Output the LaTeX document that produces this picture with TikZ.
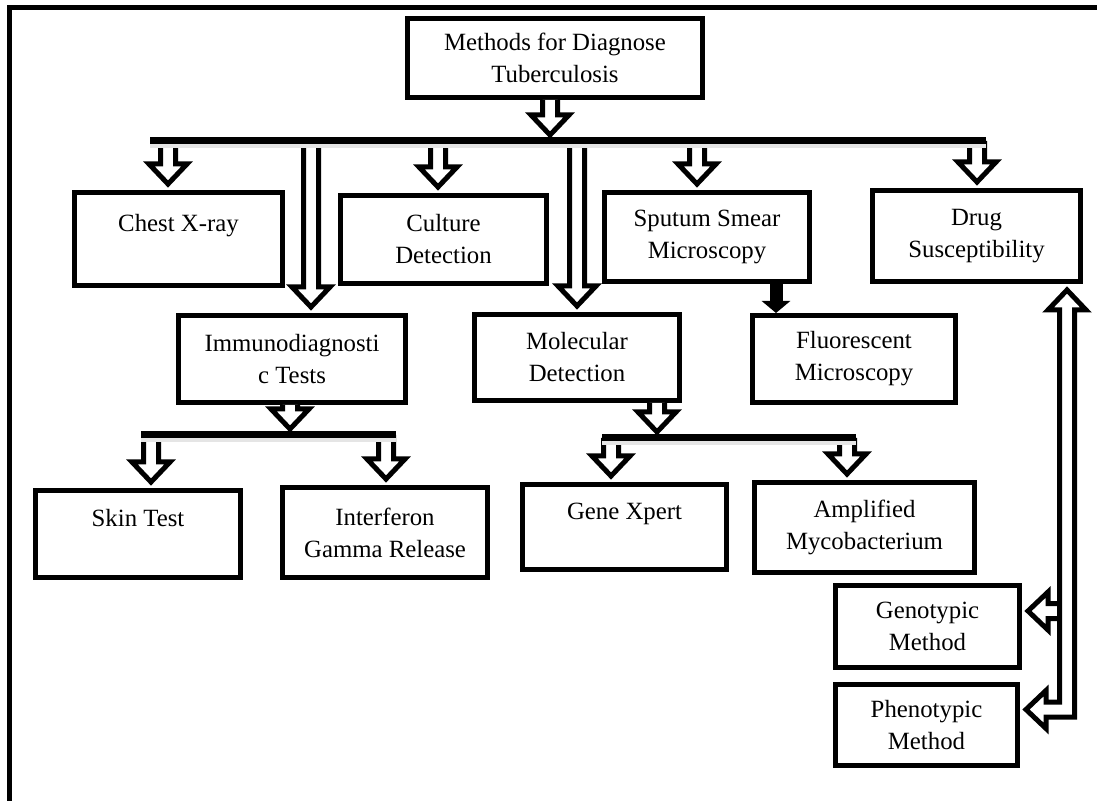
\documentclass[tikz,border=0pt]{standalone}
\usepackage{fontspec}
\setmainfont{Liberation Serif}
\usetikzlibrary{arrows.meta,calc}

% open block arrow pointing down: from a point (#1) to a node anchor (#2)
\newcommand{\hollowdown}[2]{%
  \draw[hollow] let \p1=(#1), \p2=(#2) in
    (\x1-3.75pt,\y1) -- (\x1-3.75pt,\y2+13pt) -- (\x1-9.5pt,\y2+13pt)
    -- (\x1,\y2+3pt) -- (\x1+9.5pt,\y2+13pt) -- (\x1+3.75pt,\y2+13pt)
    -- (\x1+3.75pt,\y1);}

\begin{document}
\begin{tikzpicture}[
  x=0.5pt, y=-0.5pt,
  box/.style={draw, line width=2.5pt, align=center, inner sep=0pt,
    font=\fontsize{12.4}{16}\selectfont},
  hollow/.style={draw, fill=white, line width=2.5pt, line join=miter, miter limit=10},
  bar/.style={line width=3.5pt},
  barshade/.style={line width=4pt, draw=black!10},
  fillarr/.style={line width=6.5pt, -{Triangle[length=6pt, width=14pt]}}
]
\useasboundingbox (0,0) rectangle (1097,801);
\draw[line width=2.5pt, line join=miter] (9.5,801) -- (9.5,8) -- (1097,8);

\node[box, minimum width=147.5pt, minimum height=39.5pt] (root) at (555,58) {Methods for Diagnose\\Tuberculosis};
\node[box, minimum width=104pt, minimum height=46.5pt] (chest) at (178.5,239) {Chest X-ray\\\mbox{}};
\node[box, minimum width=103pt, minimum height=44pt] (culture) at (443.5,239.5) {Culture\\Detection};
\node[box, minimum width=102.5pt, minimum height=44.5pt] (sputum) at (707,237) {Sputum Smear\\Microscopy};
\node[box, minimum width=104pt, minimum height=45.5pt] (drug) at (976.5,236) {Drug\\Susceptibility};
\node[box, minimum width=113.5pt, minimum height=43.5pt] (immuno) at (292,359) {Immunodiagnosti\\c Tests};
\node[box, minimum width=102.5pt, minimum height=43pt] (molec) at (577,357.5) {Molecular\\Detection};
\node[box, minimum width=101.5pt, minimum height=43.5pt] (fluor) at (854,359) {Fluorescent\\Microscopy};
\node[box, minimum width=102.5pt, minimum height=43.5pt] (skin) at (138,534) {Skin Test\\\mbox{}};
\node[box, minimum width=102.5pt, minimum height=45pt] (interf) at (385,532.5) {Interferon\\Gamma Release};
\node[box, minimum width=102pt, minimum height=42.5pt] (gene) at (624.5,527) {Gene Xpert\\\mbox{}};
\node[box, minimum width=110pt, minimum height=45pt] (ampl) at (864.5,527.5) {Amplified\\Mycobacterium};
\node[box, minimum width=92pt, minimum height=41pt] (geno) at (927.5,626.5) {Genotypic\\Method};
\node[box, minimum width=91pt, minimum height=40.5pt] (pheno) at (926.5,725) {Phenotypic\\Method};

% points on the bars
\coordinate (hub) at (550,141);
\coordinate (t1) at (168,141);
\coordinate (t2) at (311,141);
\coordinate (t3) at (438,141);
\coordinate (t4) at (577,141);
\coordinate (t5) at (697,141);
\coordinate (t6) at (977,141);
\coordinate (ihub) at (290,435);
\coordinate (i1) at (151,435);
\coordinate (i2) at (386,435);
\coordinate (mhub) at (657,438);
\coordinate (m1) at (611,438);
\coordinate (m2) at (847,438);
\coordinate (fs) at ([xshift=34.5pt]sputum.south);
\coordinate (rv) at (1067,450);

\hollowdown{[xshift=-2.5pt]root.south}{hub}
\hollowdown{t1}{chest.north}
\hollowdown{t2}{immuno.north}
\hollowdown{t3}{culture.north}
\hollowdown{t4}{molec.north}
\hollowdown{t5}{sputum.north}
\hollowdown{t6}{drug.north}
\hollowdown{[xshift=-1pt]immuno.south}{ihub}
\hollowdown{i1}{skin.north}
\hollowdown{i2}{interf.north}
\hollowdown{[xshift=40pt]molec.south}{mhub}
\hollowdown{m1}{gene.north}
\hollowdown{m2}{ampl.north}

\draw[barshade] (150,144) -- (986,144);
\draw[bar] (150,141) -- (986,141);
\draw[barshade] (141,438) -- (396,438);
\draw[bar] (141,435) -- (396,435);
\draw[barshade] (602,441) -- (856,441);
\draw[bar] (602,438) -- (856,438);

\draw[fillarr] (fs) -- (fs |- fluor.north);

% drug susceptibility: genotypic / phenotypic
\draw[hollow] let \p1=(rv), \p2=([yshift=7.75pt]geno.east) in
  (\x1-3.75pt,\y2+3.75pt) -- (\x2+13pt,\y2+3.75pt) -- (\x2+13pt,\y2+9.5pt)
  -- (\x2+3pt,\y2) -- (\x2+13pt,\y2-9.5pt) -- (\x2+13pt,\y2-3.75pt)
  -- (\x1-3.75pt,\y2-3.75pt);
\draw[hollow] let \p1=(rv |- drug.south), \p2=([yshift=7.75pt]pheno.east) in
  (\x1-3.75pt,\y2+3.75pt) -- (\x1-3.75pt,\y1-13pt) -- (\x1-9.5pt,\y1-13pt)
  -- (\x1,\y1-3pt) -- (\x1+9.5pt,\y1-13pt) -- (\x1+3.75pt,\y1-13pt)
  -- (\x1+3.75pt,\y2-3.75pt) -- (\x2+13pt,\y2-3.75pt) -- (\x2+13pt,\y2-9.5pt)
  -- (\x2+3pt,\y2) -- (\x2+13pt,\y2+9.5pt) -- (\x2+13pt,\y2+3.75pt) -- cycle;
\end{tikzpicture}
\end{document}
